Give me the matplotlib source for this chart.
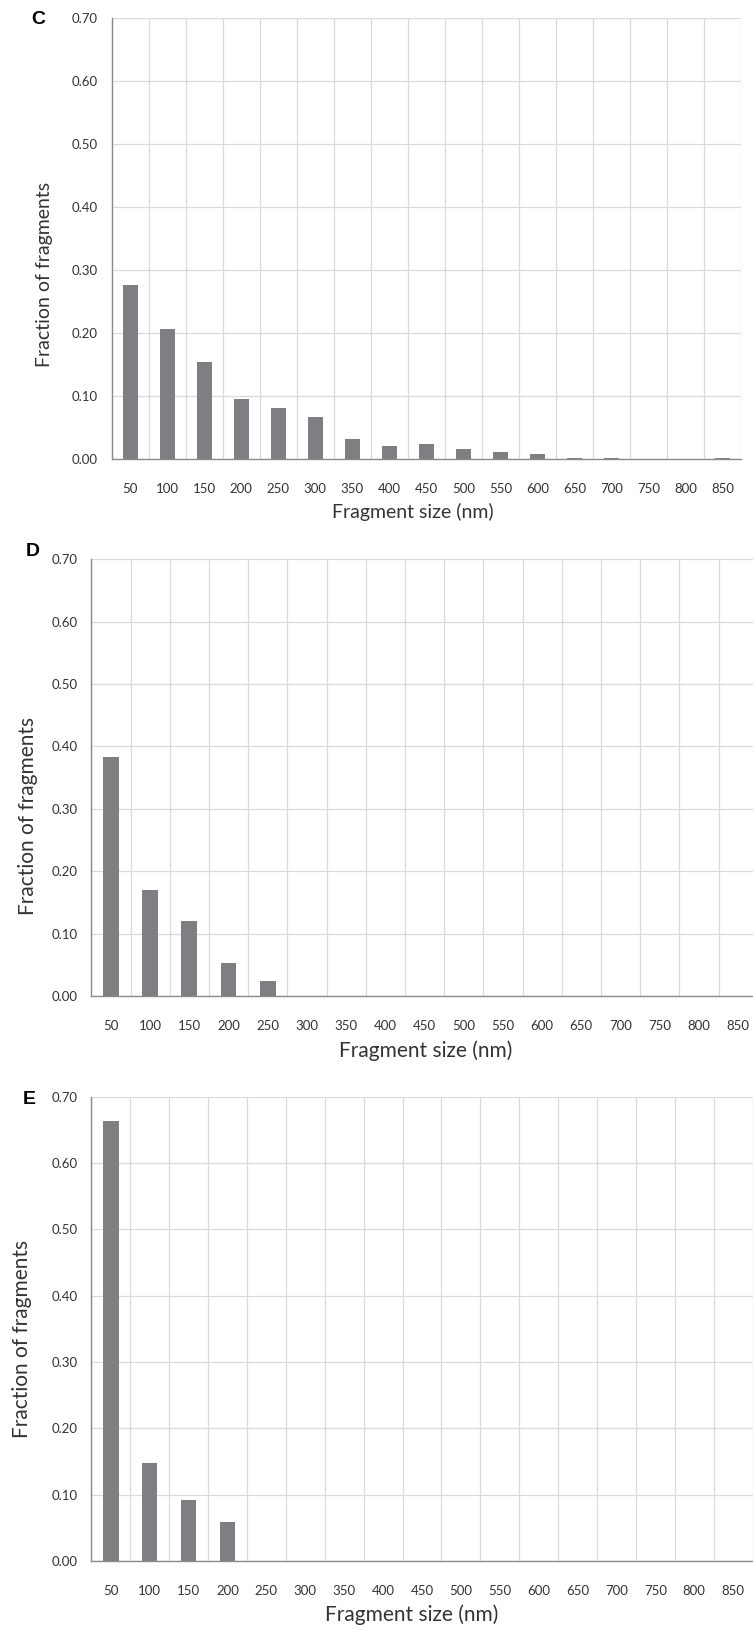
import numpy as np
import matplotlib
matplotlib.use("Agg")
import matplotlib.pyplot as plt

plt.rcParams['font.family'] = ['Lato', 'DejaVu Sans']

# fragment size bins (nm)
sizes = ["50", "100", "150", "200", "250", "300", "350", "400", "450",
         "500", "550", "600", "650", "700", "750", "800", "850"]

# fraction of fragments in each bin
frac_c = [0.276, 0.207, 0.154, 0.096, 0.081, 0.067, 0.032, 0.021, 0.024,
          0.016, 0.011, 0.009, 0.002, 0.002, 0.001, 0.0, 0.002]
frac_d = [0.383, 0.170, 0.121, 0.053, 0.024, 0.0, 0.0, 0.0, 0.0,
          0.0, 0.0, 0.0, 0.0, 0.0, 0.0, 0.0, 0.0]
frac_e = [0.664, 0.147, 0.092, 0.059, 0.0, 0.0, 0.0, 0.0, 0.0,
          0.0, 0.0, 0.0, 0.0, 0.0, 0.0, 0.0, 0.0]

W, H = 753, 1630
bar_color = '#7e7f83'
text_color = '#333333'
letter_font = ['Liberation Sans', 'DejaVu Sans']

fig = plt.figure(figsize=(W / 100, H / 100), dpi=100)


def px_axes(left, top, width, height):
    # place an axes using pixel coordinates measured from the top-left corner
    return fig.add_axes([left / W, (H - top - height) / H, width / W, height / H])


def draw_panel(ax, values):
    x = np.arange(len(sizes))
    ax.bar(x, values, width=0.4, color=bar_color, zorder=3)
    ax.set_xlim(-0.5, len(sizes) - 0.5)
    ax.set_ylim(0, 0.7)
    ax.set_yticks(np.arange(0, 0.71, 0.1))
    ax.set_yticklabels(["%.2f" % v for v in np.arange(0, 0.71, 0.1)])
    ax.set_xticks(x)
    ax.set_xticklabels(sizes)
    ax.set_xticks(np.arange(-0.5, len(sizes)), minor=True)
    ax.grid(axis='y', which='major', color='#dadada', linewidth=0.9, zorder=0)
    ax.grid(axis='x', which='minor', color='#dadada', linewidth=0.9, zorder=0)
    ax.tick_params(which='both', length=0, labelsize=9.5, colors=text_color)
    ax.tick_params(axis='x', pad=17)
    ax.tick_params(axis='y', pad=10)
    for s in ['top', 'right']:
        ax.spines[s].set_visible(False)
    for s in ['left', 'bottom']:
        ax.spines[s].set_color('#8a8a8a')
        ax.spines[s].set_linewidth(1.0)
        ax.spines[s].set_zorder(4)


# panel C
ax_c = px_axes(111.7, 18.3, 629.3, 441.0)
draw_panel(ax_c, frac_c)
fig.text(38 / W, 1 - 20 / H, "C", fontsize=14, fontweight='bold',
         family=letter_font, ha='center', va='center')
fig.text(45 / W, 1 - 274 / H, "Fraction of fragments", rotation=90,
         fontsize=14, color=text_color, ha='center', va='center')
fig.text(412.5 / W, 1 - 512 / H, "Fragment size (nm)",
         fontsize=14, color=text_color, ha='center', va='center')

# panel D
ax_d = px_axes(91.3, 559.3, 666.4, 436.7)
draw_panel(ax_d, frac_d)
fig.text(32.5 / W, 1 - 551.5 / H, "D", fontsize=14, fontweight='bold',
         family=letter_font, ha='center', va='center')
fig.text(28 / W, 1 - 816 / H, "Fraction of fragments", rotation=90,
         fontsize=15, color=text_color, ha='center', va='center')
fig.text(425.5 / W, 1 - 1050.7 / H, "Fragment size (nm)",
         fontsize=15, color=text_color, ha='center', va='center')

# panel E
ax_e = px_axes(91.3, 1096.7, 661.3, 464.3)
draw_panel(ax_e, frac_e)
fig.text(29.5 / W, 1 - 1100 / H, "E", fontsize=14, fontweight='bold',
         family=letter_font, ha='center', va='center')
fig.text(21.7 / W, 1 - 1339 / H, "Fraction of fragments", rotation=90,
         fontsize=15, color=text_color, ha='center', va='center')
fig.text(411.5 / W, 1 - 1615 / H, "Fragment size (nm)",
         fontsize=15, color=text_color, ha='center', va='center')

fig.savefig("out.png", dpi=100)
